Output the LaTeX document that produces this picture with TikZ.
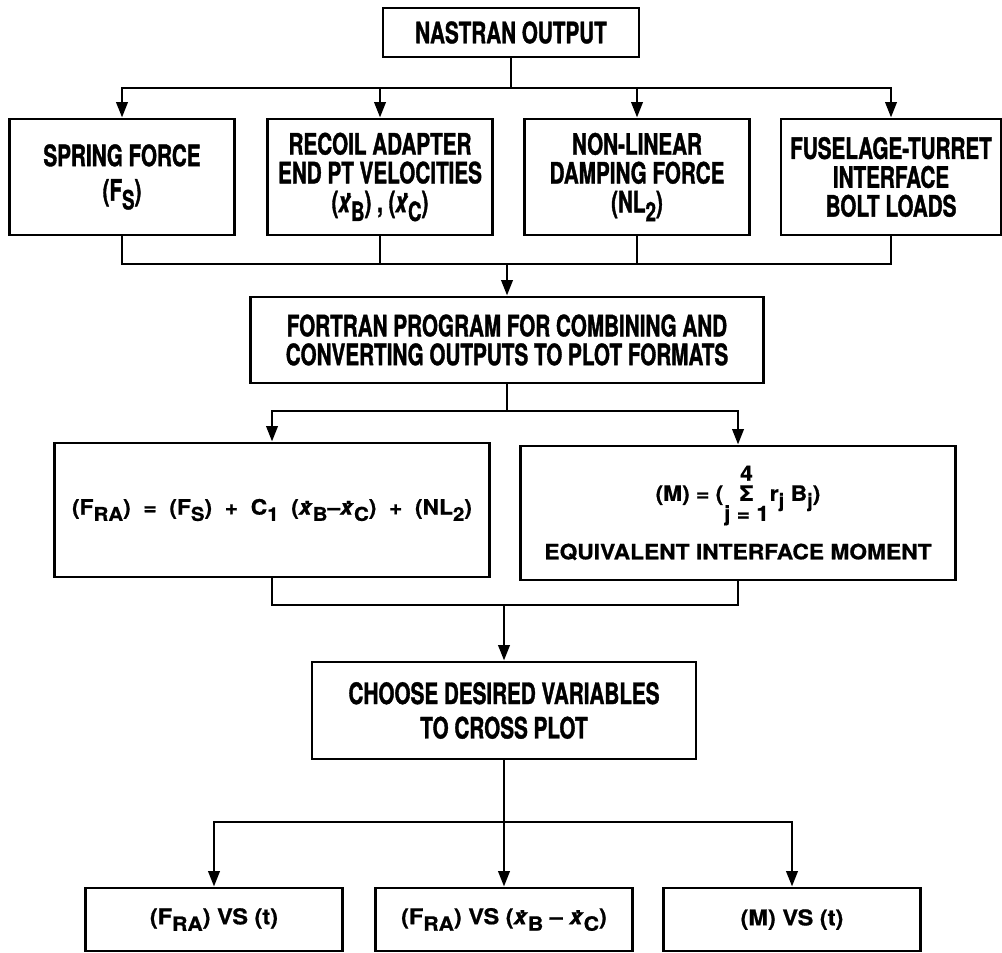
\documentclass[tikz,border=0pt]{standalone}
\usepackage{fontspec}
\setmainfont{TeX Gyre Heros}
\newfontfamily\condfont{TeX Gyre Heros}[FakeStretch=0.70, FakeBold=1.2]
\newfontfamily\widefont{TeX Gyre Heros}[FakeStretch=1.08, FakeBold=0.8]
\usetikzlibrary{arrows.meta}

% lowered subscript, dotted x and the sum with its limits
\newcommand{\dn}[1]{\raisebox{-0.55ex}{\scalebox{0.9}{#1}}}
\newcommand{\xd}{\makebox[0pt][l]{\hspace{0.25em}\raisebox{0.5em}{.}}\textit{x}}
\newcommand{\gap}{\hspace{0.6em}}
\newcommand{\sumj}{\makebox[2.2em][c]{\makebox[0pt][c]{\raisebox{0.95em}{4}}\makebox[0pt][c]{Σ}\makebox[0pt][c]{\raisebox{-0.95em}{j = 1}}}}

\tikzset{
    stepbox/.style={draw, line width=2pt, align=center, inner sep=2pt,
        font=\condfont\bfseries\fontsize{21}{20.5}\selectfont},
    formbox/.style={stepbox, font=\widefont\bfseries\fontsize{15}{17}\selectfont},
    plotbox/.style={stepbox, font=\widefont\bfseries\fontsize{15.5}{18}\selectfont},
    line/.style={line width=2pt},
    flow/.style={line width=2pt, -{Triangle[length=11pt,width=8pt]}},
}

\begin{document}
\begin{tikzpicture}[x=0.025cm, y=-0.025cm]
    \useasboundingbox (0,0) rectangle (1002,953);

    \node[stepbox, minimum width=6.4cm, minimum height=1.225cm] (nastran) at (511,32.5) {NASTRAN OUTPUT};

    \node[stepbox, minimum width=5.625cm, minimum height=2.9cm] (spring) at (122,177) {SPRING FORCE\\[4pt](F\dn{S})};
    \node[stepbox, minimum width=5.625cm, minimum height=2.9cm] (recoil) at (380,177) {RECOIL ADAPTER\\END PT VELOCITIES\\(\xd\dn{B}) , (\xd\dn{C})};
    \node[stepbox, minimum width=5.625cm, minimum height=2.9cm] (damping) at (637,177) {NON-LINEAR\\DAMPING FORCE\\(NL\dn{2})};
    \node[stepbox, minimum width=5.5cm, minimum height=2.9cm] (fuselage) at (891,177) {FUSELAGE-TURRET\\INTERFACE\\BOLT LOADS};

    \node[stepbox, minimum width=12.825cm, minimum height=2.15cm] (fortran) at (507,340) {FORTRAN PROGRAM FOR COMBINING AND\\CONVERTING OUTPUTS TO PLOT FORMATS};

    \node[formbox, minimum width=10.875cm, minimum height=3.35cm] (lform) at (272,510) {(F\dn{RA})\gap=\gap(F\dn{S})\gap+\gap C\dn{1}\gap(\xd\dn{B}–\xd\dn{C})\gap+\gap(NL\dn{2})};
    \node[formbox, minimum width=10.875cm, minimum height=3.35cm] (rform) at (738,513) {(M) = (\sumj r\dn{j} B\dn{j})\\[12pt]EQUIVALENT INTERFACE MOMENT};

    \node[stepbox, minimum width=9.6cm, minimum height=2.425cm] (choose) at (504,710.5) {CHOOSE DESIRED VARIABLES\\[4pt]TO CROSS PLOT};

    \node[plotbox, minimum width=6.425cm, minimum height=1.575cm] (plotA) at (214,919.5) {(F\dn{RA}) VS (t)};
    \node[plotbox, minimum width=6.425cm, minimum height=1.575cm] (plotB) at (504,919.5) {(F\dn{RA}) VS (\xd\dn{B} – \xd\dn{C})};
    \node[plotbox, minimum width=6.425cm, minimum height=1.575cm] (plotC) at (792,919.5) {(M) VS (t)};

    % bus junctions
    \coordinate (busA) at (511,88);
    \coordinate (busB) at (507,264);
    \coordinate (busC) at (507,411);
    \coordinate (busD) at (504,605);
    \coordinate (busE) at (504,822);

    \draw[line] (nastran) -- (busA);
    \foreach \n in {spring,recoil,damping,fuselage} {
        \draw[flow] (busA) -| (\n);
        \draw[line] (\n) |- (busB);
    }
    \draw[flow] (busB) -- (fortran);

    \draw[line] (fortran) -- (busC);
    \foreach \n in {lform,rform} {
        \draw[flow] (busC) -| (\n);
        \draw[line] (\n) |- (busD);
    }
    \draw[flow] (busD) -- (choose);

    \draw[line] (choose) -- (busE);
    \foreach \n in {plotA,plotB,plotC}
        \draw[flow] (busE) -| (\n);
\end{tikzpicture}
\end{document}
